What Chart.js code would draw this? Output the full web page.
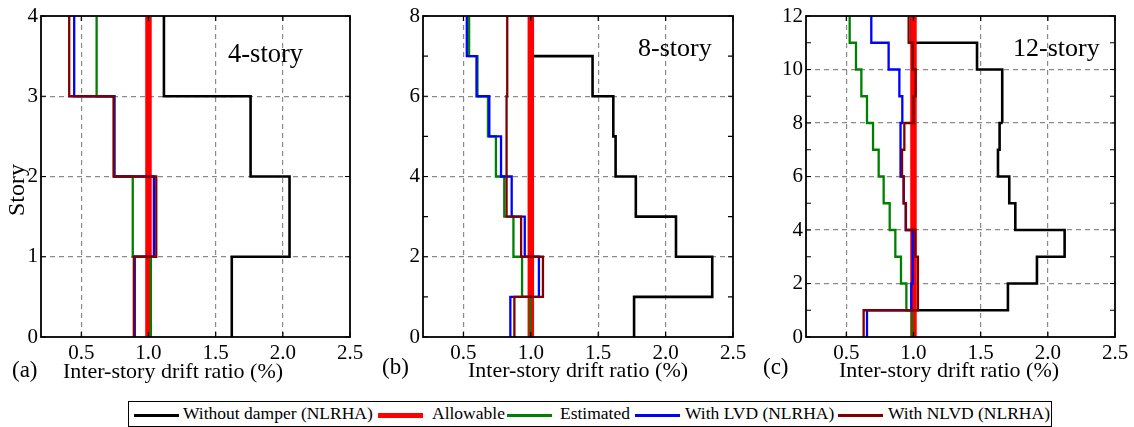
<!DOCTYPE html>
<html>
<head>
<meta charset="utf-8">
<script src="https://cdn.jsdelivr.net/npm/chart.js@4.4.0/dist/chart.umd.min.js"></script>
<style>
  body { margin: 0; background: #fff; width: 1134px; height: 427px; position: relative; overflow: hidden; font-family: "Liberation Serif", Tinos, "Times New Roman", "DejaVu Serif", serif; color: #000; }
  canvas { position: absolute; top: 0; }
  .txt { position: absolute; line-height: 1; white-space: nowrap; }
  .lg { position: absolute; top: 401px; left: 128px; width: 922px; height: 24px; border: 1.5px solid #000; }
  .smp { position: absolute; height: 2.5px; top: 12px; }
  .lt { position: absolute; font-size: 17.5px; top: 3px; line-height: 1; white-space: nowrap; }
</style>
</head>
<body>
<canvas id="c4" width="375" height="380" style="left:0px"></canvas>
<canvas id="c8" width="378" height="380" style="left:380px"></canvas>
<canvas id="c12" width="374" height="380" style="left:760px"></canvas>

<div class="txt" style="left:16px;top:190px;font-size:24px;transform:translate(-50%,-50%) rotate(-90deg);">Story</div>
<div class="txt" style="left:12px;top:358px;font-size:23px;">(a)</div>
<div class="txt" style="left:63px;top:360px;font-size:22px;">Inter-story drift ratio (%)</div>
<div class="txt" style="left:382px;top:355px;font-size:23px;">(b)</div>
<div class="txt" style="left:468px;top:359px;font-size:22px;">Inter-story drift ratio (%)</div>
<div class="txt" style="left:763px;top:355px;font-size:23px;">(c)</div>
<div class="txt" style="left:839px;top:359px;font-size:22px;">Inter-story drift ratio (%)</div>
<div class="txt" style="left:228px;top:40px;font-size:26.5px;">4-story</div>
<div class="txt" style="left:638px;top:35px;font-size:26px;">8-story</div>
<div class="txt" style="left:1013px;top:35px;font-size:26px;">12-story</div>

<div class="lg">
  <div class="smp" style="left:5px;width:45px;background:#000;"></div>
  <div class="lt" style="left:54px;">Without damper (NLRHA)</div>
  <div class="smp" style="left:249px;width:45px;height:5px;top:11px;background:#ff0000;"></div>
  <div class="lt" style="left:303px;">Allowable</div>
  <div class="smp" style="left:378px;width:45px;background:#008000;"></div>
  <div class="lt" style="left:431px;">Estimated</div>
  <div class="smp" style="left:506px;width:45px;background:#0000ff;"></div>
  <div class="lt" style="left:556px;">With LVD (NLRHA)</div>
  <div class="smp" style="left:709px;width:45px;background:#800000;"></div>
  <div class="lt" style="left:759px;">With NLVD (NLRHA)</div>
</div>

<script>
// drift ratio (%) per story, story 1 at the bottom
const xTicks = [0.5, 1.0, 1.5, 2.0, 2.5];
const allowable = 1.0;

const noDamper4 = [1.62, 2.05, 1.76, 1.115];
const estimated4 = [1.018, 0.883, 0.746, 0.614];
const lvd4 = [0.898, 1.04, 0.746, 0.447];
const nlvd4 = [0.891, 1.058, 0.74, 0.41];
const yTicks4 = [0, 1, 2, 3, 4];

const noDamper8 = [1.766, 2.346, 2.077, 1.779, 1.629, 1.612, 1.458, 1.0];
const estimated8 = [0.997, 0.935, 0.871, 0.803, 0.741, 0.682, 0.604, 0.542];
const lvd8 = [0.848, 1.06, 0.955, 0.858, 0.779, 0.692, 0.597, 0.525];
const nlvd8 = [0.878, 1.09, 0.928, 0.82, 0.82, 0.82, 0.825, 0.825];
const yTicks8 = [0, 2, 4, 6, 8];

const noDamper12 = [0.99, 1.703, 1.919, 2.125, 1.758, 1.713, 1.629, 1.641, 1.664, 1.659, 1.473, 0.985];
const estimated12 = [0.989, 0.947, 0.907, 0.865, 0.823, 0.778, 0.741, 0.699, 0.654, 0.612, 0.572, 0.525];
const lvd12 = [0.654, 0.984, 0.994, 0.994, 0.942, 0.927, 0.907, 0.902, 0.917, 0.895, 0.815, 0.686];
const nlvd12 = [0.629, 1.033, 1.033, 1.014, 0.944, 0.927, 0.915, 0.932, 1.001, 1.016, 0.994, 0.964];
const yTicks12 = [0, 2, 4, 6, 8, 10, 12];

const serif = "'Liberation Serif', Tinos, 'Times New Roman', 'DejaVu Serif', serif";

function steps(vals) {
  let pts = [];
  vals.forEach(function(v, i) {
    pts.push({x: v, y: i});
    pts.push({x: v, y: i + 1});
  });
  return pts;
}

function serie(pts, color, width, order) {
  return {
    data: pts, showLine: true, borderColor: color, backgroundColor: color,
    borderWidth: width, pointRadius: 0, tension: 0, order: order,
    borderJoinStyle: 'miter', borderCapStyle: 'butt'
  };
}

// box around the plot + small inward ticks
const frame = {
  id: 'frame',
  afterDraw(chart, args, opts) {
    const ctx = chart.ctx;
    const a = chart.chartArea;
    const sx = chart.scales.x, sy = chart.scales.y;
    ctx.save();
    ctx.strokeStyle = '#000';
    ctx.lineWidth = 1.2;
    ctx.beginPath();
    for (let v = 0; v <= opts.n; v++) {
      let p = sy.getPixelForValue(v);
      ctx.moveTo(a.left, p); ctx.lineTo(a.left + 5, p);
      ctx.moveTo(a.right, p); ctx.lineTo(a.right - 5, p);
    }
    xTicks.forEach(function(v) {
      let p = sx.getPixelForValue(v);
      ctx.moveTo(p, a.top); ctx.lineTo(p, a.top + 5);
      ctx.moveTo(p, a.bottom); ctx.lineTo(p, a.bottom - 5);
    });
    ctx.stroke();
    ctx.lineWidth = 1.8;
    ctx.strokeRect(a.left, a.top, a.right - a.left, a.bottom - a.top);
    ctx.restore();
  }
};

function grafico(id, n, yTicks, noDamper, estimated, lvd, nlvd, yWidth, padRight) {
  let g = document.getElementById(id).getContext('2d');
  let datasets = [
    serie(steps(noDamper), '#000000', 2.6, 5),
    serie([{x: allowable, y: 0}, {x: allowable, y: n}], '#ff0000', 6.5, 4),
    serie(steps(estimated), '#008000', 2.3, 3),
    serie(steps(lvd), '#0000ff', 2.3, 2),
    serie(steps(nlvd), '#800000', 2.3, 1)
  ];
  return new Chart(g, {
    type: 'scatter',
    data: { datasets: datasets },
    plugins: [frame],
    options: {
      responsive: false,
      animation: false,
      devicePixelRatio: 1,
      layout: { padding: { top: 16, right: padRight, left: 0, bottom: 0 } },
      plugins: { legend: { display: false }, tooltip: { enabled: false }, frame: { n: n } },
      scales: {
        x: {
          type: 'linear', min: 0.2, max: 2.5,
          afterBuildTicks: function(s) { s.ticks = xTicks.map(function(v) { return {value: v}; }); },
          afterFit: function(s) { s.height = 43; },
          ticks: {
            color: '#000', padding: 4, maxRotation: 0, autoSkip: false,
            font: { family: serif, size: 21 },
            callback: function(v) { return v.toFixed(1); }
          },
          grid: {
            drawTicks: false, lineWidth: 1.2,
            color: function(c) { return (c.tick && c.tick.value >= 2.5) ? 'rgba(0,0,0,0)' : '#8a8a8a'; }
          },
          border: { display: false, dash: [5, 4] }
        },
        y: {
          type: 'linear', min: 0, max: n,
          afterBuildTicks: function(s) { s.ticks = yTicks.map(function(v) { return {value: v}; }); },
          afterFit: function(s) { s.width = yWidth; },
          ticks: {
            color: '#000', padding: 3, autoSkip: false,
            font: { family: serif, size: 21 }
          },
          grid: {
            drawTicks: false, lineWidth: 1.2,
            color: function(c) { return (c.tick && (c.tick.value == 0 || c.tick.value == n)) ? 'rgba(0,0,0,0)' : '#8a8a8a'; }
          },
          border: { display: false, dash: [5, 4] }
        }
      }
    }
  });
}

grafico('c4', 4, yTicks4, noDamper4, estimated4, lvd4, nlvd4, 41, 25);
grafico('c8', 8, yTicks8, noDamper8, estimated8, lvd8, nlvd8, 43, 25);
grafico('c12', 12, yTicks12, noDamper12, estimated12, lvd12, nlvd12, 46, 19);
</script>
</body>
</html>
